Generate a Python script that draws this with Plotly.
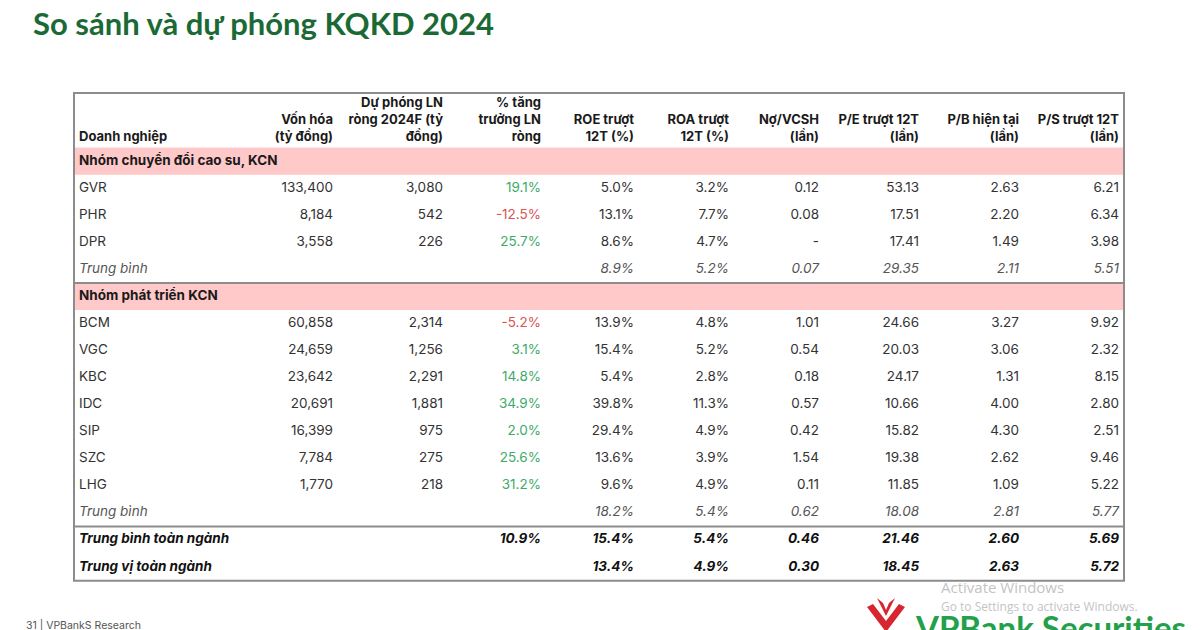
import plotly.graph_objects as go

# ---------------- data ----------------
columns = ["Doanh nghiệp", "Vốn hóa<br>(tỷ đồng)", "Dự phóng LN<br>ròng 2024F (tỷ<br>đồng)",
           "% tăng<br>trưởng LN<br>ròng", "ROE trượt<br>12T (%)", "ROA trượt<br>12T (%)",
           "Nợ/VCSH<br>(lần)", "P/E trượt 12T<br>(lần)", "P/B hiện tại<br>(lần)", "P/S trượt 12T<br>(lần)"]

group1_name = "Nhóm chuyển đổi cao su, KCN"
companies_g1 = ["GVR", "PHR", "DPR"]
cap_g1 = [133400, 8184, 3558]
np_g1 = [3080, 542, 226]
growth_g1 = [19.1, -12.5, 25.7]
roe_g1 = [5.0, 13.1, 8.6]
roa_g1 = [3.2, 7.7, 4.7]
de_g1 = [0.12, 0.08, None]
pe_g1 = [53.13, 17.51, 17.41]
pb_g1 = [2.63, 2.20, 1.49]
ps_g1 = [6.21, 6.34, 3.98]
avg_g1 = [8.9, 5.2, 0.07, 29.35, 2.11, 5.51]          # ROE, ROA, D/E, P/E, P/B, P/S

group2_name = "Nhóm phát triển KCN"
companies_g2 = ["BCM", "VGC", "KBC", "IDC", "SIP", "SZC", "LHG"]
cap_g2 = [60858, 24659, 23642, 20691, 16399, 7784, 1770]
np_g2 = [2314, 1256, 2291, 1881, 975, 275, 218]
growth_g2 = [-5.2, 3.1, 14.8, 34.9, 2.0, 25.6, 31.2]
roe_g2 = [13.9, 15.4, 5.4, 39.8, 29.4, 13.6, 9.6]
roa_g2 = [4.8, 5.2, 2.8, 11.3, 4.9, 3.9, 4.9]
de_g2 = [1.01, 0.54, 0.18, 0.57, 0.42, 1.54, 0.11]
pe_g2 = [24.66, 20.03, 24.17, 10.66, 15.82, 19.38, 11.85]
pb_g2 = [3.27, 3.06, 1.31, 4.00, 4.30, 2.62, 1.09]
ps_g2 = [9.92, 2.32, 8.15, 2.80, 2.51, 9.46, 5.22]
avg_g2 = [18.2, 5.4, 0.62, 18.08, 2.81, 5.77]

avg_label = "Trung bình"
industry_avg_label = "Trung bình toàn ngành"
industry_med_label = "Trung vị toàn ngành"
industry_avg = [10.9, 15.4, 5.4, 0.46, 21.46, 2.60, 5.69]   # growth, ROE, ROA, D/E, P/E, P/B, P/S
industry_med = [None, 13.4, 4.9, 0.30, 18.45, 2.63, 5.72]

# ---------------- layout constants ----------------
FONT = "Inter"
TXT = "#333333"
GREEN_TXT = "#3daa68"
RED_TXT = "#d9534f"
PINK = "#ffc9c9"
BORDER = "#8c8c8c"
COL_LEFT = 79
COL_RIGHT = [333, 443, 541, 634, 729, 819, 919, 1019, 1119]
TABLE_X0, TABLE_X1 = 74, 1124
TABLE_Y0 = 93
ROW_TOP = 147.6
ROW_H = 27.07
TEXT_LIFT = 0
HEADER_BOTTOM = 144
PAGE_OFFSET = 8   # default body margin of the html page


def fnum(v):
    return f"{v:,.0f}"


def fpct(v):
    return "" if v is None else f"{v:.1f}%"


def fx(v, dash=""):
    return dash if v is None else f"{v:.2f}"


# build rows: (label, [9 cell strings], kind, growth value)
rows = []
rows.append((group1_name, [""] * 9, "group", None))
for i, c in enumerate(companies_g1):
    rows.append((c, [fnum(cap_g1[i]), fnum(np_g1[i]), fpct(growth_g1[i]), fpct(roe_g1[i]),
                     fpct(roa_g1[i]), fx(de_g1[i], "-"), fx(pe_g1[i]), fx(pb_g1[i]), fx(ps_g1[i])],
                 "normal", growth_g1[i]))
rows.append((avg_label, ["", "", "", fpct(avg_g1[0]), fpct(avg_g1[1]), fx(avg_g1[2]),
                         fx(avg_g1[3]), fx(avg_g1[4]), fx(avg_g1[5])], "avg", None))
rows.append((group2_name, [""] * 9, "group", None))
for i, c in enumerate(companies_g2):
    rows.append((c, [fnum(cap_g2[i]), fnum(np_g2[i]), fpct(growth_g2[i]), fpct(roe_g2[i]),
                     fpct(roa_g2[i]), fx(de_g2[i], "-"), fx(pe_g2[i]), fx(pb_g2[i]), fx(ps_g2[i])],
                 "normal", growth_g2[i]))
rows.append((avg_label, ["", "", "", fpct(avg_g2[0]), fpct(avg_g2[1]), fx(avg_g2[2]),
                         fx(avg_g2[3]), fx(avg_g2[4]), fx(avg_g2[5])], "avg", None))
rows.append((industry_avg_label, ["", "", fpct(industry_avg[0]), fpct(industry_avg[1]),
                                  fpct(industry_avg[2]), fx(industry_avg[3]), fx(industry_avg[4]),
                                  fx(industry_avg[5]), fx(industry_avg[6])], "total", None))
rows.append((industry_med_label, ["", "", fpct(industry_med[0]), fpct(industry_med[1]),
                                  fpct(industry_med[2]), fx(industry_med[3]), fx(industry_med[4]),
                                  fx(industry_med[5]), fx(industry_med[6])], "total", None))

n_rows = len(rows)
row_y = [ROW_TOP + (i + 0.5) * ROW_H - TEXT_LIFT for i in range(n_rows)]


def styled(s, kind):
    if s == "":
        return s
    if kind == "group":
        return f"<b>{s}</b>"
    if kind == "avg":
        return f"<i>{s}</i>"
    if kind == "total":
        return f"<b><i>{s}</i></b>"
    return s


def color_for(kind):
    return {"group": "#1a1a1a", "avg": "#555555", "total": "#111111"}.get(kind, TXT)


fig = go.Figure()

# pink group rows + separators + border
shapes = []
for i, r in enumerate(rows):
    if r[2] == "group":
        shapes.append(dict(type="rect", xref="x", yref="y", x0=TABLE_X0, x1=TABLE_X1,
                           y0=ROW_TOP + i * ROW_H, y1=ROW_TOP + (i + 1) * ROW_H,
                           fillcolor=PINK, line=dict(width=0), layer="below"))
sep_rows = [5, 14]
for i in sep_rows:
    y = ROW_TOP + i * ROW_H
    shapes.append(dict(type="line", xref="x", yref="y", x0=TABLE_X0, x1=TABLE_X1, y0=y, y1=y,
                       line=dict(color=BORDER, width=2)))
shapes.append(dict(type="rect", xref="x", yref="y", x0=TABLE_X0, x1=TABLE_X1,
                   y0=TABLE_Y0, y1=ROW_TOP + n_rows * ROW_H,
                   line=dict(color=BORDER, width=2), fillcolor="rgba(0,0,0,0)"))
# logo mark
shapes.append(dict(type="path", xref="x", yref="y",
                   path="M 867,607 L 886,632 L 905,607 L 899,604 L 886,621 L 873,604 Z",
                   fillcolor="#d7262e", line=dict(width=0)))
shapes.append(dict(type="path", xref="x", yref="y",
                   path="M 877,598 L 886,616 L 895,598 L 889,603 L 886,610 L 883,603 Z",
                   fillcolor="#d7262e", line=dict(width=0)))

# header
fig.add_trace(go.Scatter(
    x=[COL_LEFT] + COL_RIGHT, y=[HEADER_BOTTOM] * len(columns),
    text=[f"<b>{c}</b>" for c in columns], mode="text",
    textposition=["top right"] + ["top left"] * 9,
    textfont=dict(family=FONT, size=13, color="#1a1a1a"),
    hoverinfo="skip", showlegend=False))

# first column
fig.add_trace(go.Scatter(
    x=[COL_LEFT] * n_rows, y=row_y,
    text=[styled(r[0], r[2]) for r in rows], mode="text", textposition="middle right",
    textfont=dict(family=FONT, size=13.5, color=[color_for(r[2]) for r in rows]),
    hoverinfo="skip", showlegend=False))

# numeric columns
for c in range(9):
    texts, colors = [], []
    for r in rows:
        texts.append(styled(r[1][c], r[2]))
        col = color_for(r[2])
        if c == 2 and r[2] == "normal" and r[3] is not None:
            col = GREEN_TXT if r[3] >= 0 else RED_TXT
        colors.append(col)
    fig.add_trace(go.Scatter(
        x=[COL_RIGHT[c]] * n_rows, y=row_y, text=texts, mode="text",
        textposition="middle left",
        textfont=dict(family=FONT, size=13.5, color=colors),
        hoverinfo="skip", showlegend=False))

annotations = [
    dict(text="<b>So sánh và dự phóng KQKD 2024</b>", x=31, y=23, xref="x", yref="y",
         xanchor="left", yanchor="middle", showarrow=False,
         font=dict(family="Lato", size=31, color="#1b6a35")),
    dict(text="31 | VPBankS Research", x=24, y=625, xref="x", yref="y",
         xanchor="left", yanchor="middle", showarrow=False,
         font=dict(family=FONT, size=10.5, color="#555555")),
    dict(text="Activate Windows", x=939, y=587, xref="x", yref="y",
         xanchor="left", yanchor="middle", showarrow=False,
         font=dict(family="Open Sans", size=15, color="#c4c4c4")),
    dict(text="Go to Settings to activate Windows.", x=939, y=606, xref="x", yref="y",
         xanchor="left", yanchor="middle", showarrow=False,
         font=dict(family="Open Sans", size=12, color="#c4c4c4")),
    dict(text="<b>VPBank Securities</b>", x=913, y=605, xref="x", yref="y",
         xanchor="left", yanchor="top", showarrow=False,
         font=dict(family="Lato", size=33, color="#22a04a")),
]

fig.update_layout(
    width=1200, height=630, margin=dict(l=0, r=0, t=0, b=0),
    paper_bgcolor="white", plot_bgcolor="white",
    xaxis=dict(range=[PAGE_OFFSET, 1200 + PAGE_OFFSET], visible=False, fixedrange=True),
    yaxis=dict(range=[630 + PAGE_OFFSET, PAGE_OFFSET], visible=False, fixedrange=True),
    shapes=shapes, annotations=annotations, showlegend=False,
)

fig.write_html("out.html")
